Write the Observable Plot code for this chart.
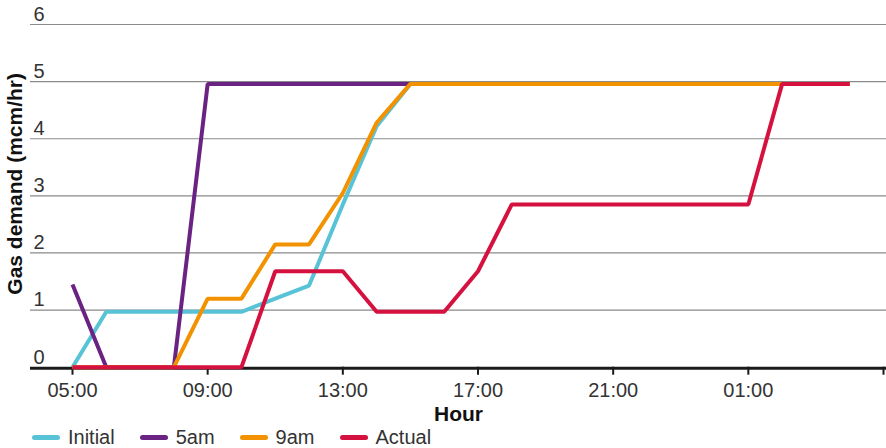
<!DOCTYPE html>
<html>
<head>
<meta charset="utf-8">
<script src="https://cdn.jsdelivr.net/npm/d3@7"></script>
<script src="https://cdn.jsdelivr.net/npm/@observablehq/plot@0.6"></script>
<style>
  html, body { margin: 0; padding: 0; background: #fff; }
  body { width: 886px; height: 448px; overflow: hidden; font-family: "Liberation Sans", Arial, Helvetica, sans-serif; }
  #chart svg { display: block; }
  #legend { height: 16px; display: flex; align-items: center; padding-left: 32px; font-size: 20px; line-height: 16px; color: #333; }
  .item { display: flex; align-items: center; margin-right: 25px; }
  .sw { width: 28px; height: 5px; border-radius: 3px; margin-right: 8px; }
</style>
</head>
<body>
<div id="chart"></div>
<div id="legend"></div>
<script>
// Hour of each data point (05:00 through 04:00 next day)
const hours = ["05:00","06:00","07:00","08:00","09:00","10:00","11:00","12:00","13:00","14:00","15:00","16:00",
               "17:00","18:00","19:00","20:00","21:00","22:00","23:00","00:00","01:00","02:00","03:00","04:00"];

// Series values (mcm/hr)
const initial = [0, 0.97, 0.97, 0.97, 0.97, 0.97, 1.2, 1.43, 2.85, 4.22, 4.96, 4.96,
                 4.96, 4.96, 4.96, 4.96, 4.96, 4.96, 4.96, 4.96, 4.96, 4.96, 4.96, 4.96];
const am5     = [1.45, 0, 0, 0, 4.96, 4.96, 4.96, 4.96, 4.96, 4.96, 4.96, 4.96,
                 4.96, 4.96, 4.96, 4.96, 4.96, 4.96, 4.96, 4.96, 4.96, 4.96, 4.96, 4.96];
const am9     = [0, 0, 0, 0, 1.2, 1.2, 2.15, 2.15, 3.05, 4.28, 4.96, 4.96,
                 4.96, 4.96, 4.96, 4.96, 4.96, 4.96, 4.96, 4.96, 4.96, 4.96, 4.96, 4.96];
const actual  = [0, 0, 0, 0, 0, 0, 1.68, 1.68, 1.68, 0.97, 0.97, 0.97,
                 1.68, 2.85, 2.85, 2.85, 2.85, 2.85, 2.85, 2.85, 2.85, 4.96, 4.96, 4.96];

const seriesNames = ["Initial", "5am", "9am", "Actual"];
const seriesColors = ["#58c3d6", "#6b2383", "#f39200", "#d5123f"];

// Axis ticks
const yTicks = [0, 1, 2, 3, 4, 5, 6];
const xTicks = [0, 4, 8, 12, 16, 20, 24];          // hour offsets from 05:00
const xTickLabels = ["05:00", "09:00", "13:00", "17:00", "21:00", "01:00", ""];

const seriesValues = [initial, am5, am9, actual];
const rows = seriesNames.flatMap((name, s) =>
  seriesValues[s].map((v, i) => ({series: name, i, hour: hours[i], value: v})));

const W = 886, H = 429, mL = 30, mR = 0, mT = 24, mB = 62.3;
// plot origin (05:00) sits 42px right of the frame's left edge; last tick 3px before right edge
const pxPerHour = (W - mL - mR - 42 - 3) / 24;

const chart = Plot.plot({
  width: W, height: H,
  marginLeft: mL, marginRight: mR, marginTop: mT, marginBottom: mB,
  style: {fontFamily: '"Liberation Sans", Arial, Helvetica, sans-serif', background: "#fff"},
  x: {type: "linear", domain: [-42 / pxPerHour, 24 + 3 / pxPerHour], axis: null},
  y: {domain: [0, 6], axis: null},
  color: {domain: seriesNames, range: seriesColors},
  marks: [
    Plot.ruleY(yTicks.filter(d => d > 0), {stroke: "#8a8a8a", strokeWidth: 1.2}),
    Plot.text(yTicks, {y: d => d, text: d => String(d), frameAnchor: "left", textAnchor: "start",
                       dx: 3, dy: -10, fontSize: 20, fill: "#333"}),
    Plot.ruleY([0], {stroke: "#1a1a1a", strokeWidth: 3, dy: 1}),
    Plot.axisX(xTicks, {tickSize: 8, tickPadding: 8, stroke: "#1a1a1a", strokeWidth: 2,
                        tickFormat: d => xTickLabels[xTicks.indexOf(d)],
                        fontSize: 20, fill: "#333", label: null}),
    Plot.line(rows, {x: "i", y: "value", z: "series", stroke: "series",
                     strokeWidth: 4, strokeLinejoin: "miter", strokeLinecap: "butt"}),
    Plot.text(["Hour"], {frameAnchor: "bottom", lineAnchor: "middle", textAnchor: "middle", dy: 47,
                         fontSize: 21, fontWeight: "bold", fill: "#111"}),
    Plot.text(["Gas demand (mcm/hr)"], {frameAnchor: "left", textAnchor: "middle", lineAnchor: "middle",
                                        rotate: -90, dx: -15, dy: -12,
                                        fontSize: 21, fontWeight: "bold", fill: "#111"})
  ]
});
document.getElementById("chart").appendChild(chart);

const legend = document.getElementById("legend");
seriesNames.forEach((name, k) => {
  const item = document.createElement("div");
  item.className = "item";
  const sw = document.createElement("span");
  sw.className = "sw";
  sw.style.background = seriesColors[k];
  const lab = document.createElement("span");
  lab.textContent = name;
  item.appendChild(sw);
  item.appendChild(lab);
  legend.appendChild(item);
});
</script>
</body>
</html>
